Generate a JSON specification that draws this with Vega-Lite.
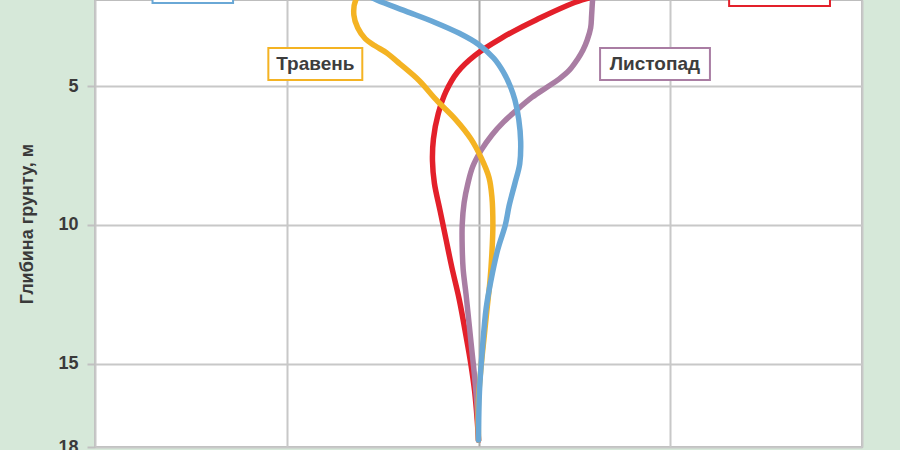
{
  "$schema": "https://vega.github.io/schema/vega-lite/v6.json",
  "autosize": "none",
  "width": 767,
  "height": 447,
  "padding": {"left": 95, "top": 0, "right": 38, "bottom": 3},
  "background": "#d6e8d9",
  "config": {
    "view": {"fill": "white", "stroke": "#bdbdbd", "strokeWidth": 2},
    "font": "Liberation Sans"
  },
  "datasets": {
    "profiles": [
      {"series": "Серпень", "x": 0.75, "depth": 1.6},
      {"series": "Серпень", "x": 0.54, "depth": 1.9},
      {"series": "Серпень", "x": 0.3, "depth": 2.62},
      {"series": "Серпень", "x": 0.12, "depth": 3.27},
      {"series": "Серпень", "x": -0.02, "depth": 3.9},
      {"series": "Серпень", "x": -0.11, "depth": 4.5},
      {"series": "Серпень", "x": -0.17, "depth": 5.2},
      {"series": "Серпень", "x": -0.21, "depth": 6.0},
      {"series": "Серпень", "x": -0.235, "depth": 6.9},
      {"series": "Серпень", "x": -0.24, "depth": 7.7},
      {"series": "Серпень", "x": -0.23, "depth": 8.5},
      {"series": "Серпень", "x": -0.2, "depth": 9.5},
      {"series": "Серпень", "x": -0.17, "depth": 10.5},
      {"series": "Серпень", "x": -0.14, "depth": 11.5},
      {"series": "Серпень", "x": -0.1, "depth": 12.7},
      {"series": "Серпень", "x": -0.065, "depth": 14.0},
      {"series": "Серпень", "x": -0.04, "depth": 15.0},
      {"series": "Серпень", "x": -0.02, "depth": 16.0},
      {"series": "Серпень", "x": -0.007, "depth": 17.0},
      {"series": "Серпень", "x": 0.0, "depth": 17.75},
      {"series": "Листопад", "x": 0.6, "depth": 1.6},
      {"series": "Листопад", "x": 0.595, "depth": 1.9},
      {"series": "Листопад", "x": 0.59, "depth": 2.44},
      {"series": "Листопад", "x": 0.585, "depth": 2.9},
      {"series": "Листопад", "x": 0.567, "depth": 3.34},
      {"series": "Листопад", "x": 0.545, "depth": 3.7},
      {"series": "Листопад", "x": 0.515, "depth": 4.05},
      {"series": "Листопад", "x": 0.475, "depth": 4.42},
      {"series": "Листопад", "x": 0.42, "depth": 4.75},
      {"series": "Листопад", "x": 0.355, "depth": 5.05},
      {"series": "Листопад", "x": 0.28, "depth": 5.4},
      {"series": "Листопад", "x": 0.2, "depth": 5.86},
      {"series": "Листопад", "x": 0.13, "depth": 6.3},
      {"series": "Листопад", "x": 0.07, "depth": 6.76},
      {"series": "Листопад", "x": 0.015, "depth": 7.3},
      {"series": "Листопад", "x": -0.03, "depth": 7.9},
      {"series": "Листопад", "x": -0.055, "depth": 8.5},
      {"series": "Листопад", "x": -0.075, "depth": 9.2},
      {"series": "Листопад", "x": -0.085, "depth": 10.0},
      {"series": "Листопад", "x": -0.085, "depth": 10.8},
      {"series": "Листопад", "x": -0.08, "depth": 11.6},
      {"series": "Листопад", "x": -0.065, "depth": 12.5},
      {"series": "Листопад", "x": -0.05, "depth": 13.5},
      {"series": "Листопад", "x": -0.035, "depth": 14.5},
      {"series": "Листопад", "x": -0.02, "depth": 15.5},
      {"series": "Листопад", "x": -0.008, "depth": 16.5},
      {"series": "Листопад", "x": 0.0, "depth": 17.75},
      {"series": "Травень", "x": -0.6, "depth": 1.6},
      {"series": "Травень", "x": -0.64, "depth": 1.9},
      {"series": "Травень", "x": -0.65, "depth": 2.44},
      {"series": "Травень", "x": -0.63, "depth": 2.9},
      {"series": "Травень", "x": -0.59, "depth": 3.3},
      {"series": "Травень", "x": -0.54, "depth": 3.55},
      {"series": "Травень", "x": -0.48, "depth": 3.8},
      {"series": "Травень", "x": -0.41, "depth": 4.2},
      {"series": "Травень", "x": -0.31, "depth": 4.8},
      {"series": "Травень", "x": -0.22, "depth": 5.5},
      {"series": "Травень", "x": -0.12, "depth": 6.2},
      {"series": "Травень", "x": -0.04, "depth": 6.9},
      {"series": "Травень", "x": 0.015, "depth": 7.6},
      {"series": "Травень", "x": 0.055, "depth": 8.3},
      {"series": "Травень", "x": 0.07, "depth": 9.0},
      {"series": "Травень", "x": 0.075, "depth": 10.0},
      {"series": "Травень", "x": 0.07, "depth": 11.0},
      {"series": "Травень", "x": 0.06, "depth": 12.0},
      {"series": "Травень", "x": 0.045, "depth": 13.0},
      {"series": "Травень", "x": 0.03, "depth": 14.0},
      {"series": "Травень", "x": 0.015, "depth": 15.0},
      {"series": "Травень", "x": 0.0, "depth": 16.3},
      {"series": "Травень", "x": 0.0, "depth": 17.75},
      {"series": "Лютий", "x": -0.62, "depth": 1.6},
      {"series": "Лютий", "x": -0.53, "depth": 1.9},
      {"series": "Лютий", "x": -0.38, "depth": 2.3},
      {"series": "Лютий", "x": -0.23, "depth": 2.7},
      {"series": "Лютий", "x": -0.1, "depth": 3.1},
      {"series": "Лютий", "x": 0.0, "depth": 3.5},
      {"series": "Лютий", "x": 0.08, "depth": 4.0},
      {"series": "Лютий", "x": 0.13, "depth": 4.5},
      {"series": "Лютий", "x": 0.165, "depth": 5.0},
      {"series": "Лютий", "x": 0.19, "depth": 5.5},
      {"series": "Лютий", "x": 0.21, "depth": 6.2},
      {"series": "Лютий", "x": 0.22, "depth": 7.0},
      {"series": "Лютий", "x": 0.215, "depth": 7.8},
      {"series": "Лютий", "x": 0.19, "depth": 8.5},
      {"series": "Лютий", "x": 0.16, "depth": 9.3},
      {"series": "Лютий", "x": 0.14, "depth": 10.0},
      {"series": "Лютий", "x": 0.1, "depth": 10.9},
      {"series": "Лютий", "x": 0.065, "depth": 12.0},
      {"series": "Лютий", "x": 0.04, "depth": 13.0},
      {"series": "Лютий", "x": 0.02, "depth": 14.5},
      {"series": "Лютий", "x": 0.005, "depth": 16.0},
      {"series": "Лютий", "x": 0.0, "depth": 17.75}
    ],
    "labels": [
      {"series": "Лютий", "label": "", "xl": -1.7, "xr": -1.28, "dt": 1.0, "db": 2.01, "xc": -1.49, "dc": 1.5},
      {"series": "Серпень", "label": "", "xl": 1.307, "xr": 1.833, "dt": 1.0, "db": 2.12, "xc": 1.57, "dc": 1.5},
      {"series": "Травень", "label": "Травень", "xl": -1.096, "xr": -0.606, "dt": 3.63, "db": 4.78, "xc": -0.851, "dc": 4.2},
      {"series": "Листопад", "label": "Листопад", "xl": 0.634, "xr": 1.207, "dt": 3.63, "db": 4.78, "xc": 0.92, "dc": 4.2}
    ]
  },
  "layer": [
    {
      "data": {"name": "profiles"},
      "mark": {"type": "line", "interpolate": "catmull-rom", "strokeWidth": 5.5, "strokeCap": "round", "clip": true},
      "encoding": {
        "x": {
          "field": "x", "type": "quantitative",
          "scale": {"domain": [-2, 2], "nice": false, "zero": false},
          "axis": {
            "values": [-2, -1, 0, 1, 2], "labels": false, "ticks": false, "domain": false, "title": null,
            "grid": true, "gridWidth": 2,
            "gridColor": {"condition": {"test": "datum.value === 0", "value": "#a8a8a8"}, "value": "#c8c8c8"}
          }
        },
        "y": {
          "field": "depth", "type": "quantitative",
          "scale": {"domain": [1.9, 18], "nice": false, "zero": false, "reverse": true},
          "axis": {
            "values": [5, 10, 15, 18], "title": "Глибина грунту, м",
            "titleFont": "Liberation Sans", "titleFontSize": 18, "titleFontWeight": "bold", "titleColor": "#3a3a3a",
            "titlePadding": 21,
            "labelFont": "Liberation Sans", "labelFontSize": 18, "labelFontWeight": "bold", "labelColor": "#3a3a3a",
            "labelPadding": 9, "tickSize": 8, "tickColor": "#c0c0c0", "tickWidth": 2,
            "domain": false, "grid": true, "gridColor": "#c8c8c8", "gridWidth": 2
          }
        },
        "order": {"field": "depth", "type": "quantitative"},
        "color": {
          "field": "series", "type": "nominal", "legend": null,
          "scale": {"domain": ["Лютий", "Серпень", "Листопад", "Травень"], "range": ["#6aa8d6", "#e3202a", "#a97da3", "#f4b323"]}
        }
      }
    },
    {
      "data": {"name": "labels"},
      "mark": {"type": "rect", "fill": "white", "strokeWidth": 2, "clip": true},
      "encoding": {
        "x": {"field": "xl", "type": "quantitative"},
        "x2": {"field": "xr"},
        "y": {"field": "dt", "type": "quantitative"},
        "y2": {"field": "db"},
        "stroke": {"field": "series", "type": "nominal", "legend": null,
          "scale": {"domain": ["Лютий", "Серпень", "Листопад", "Травень"], "range": ["#6aa8d6", "#e3202a", "#a97da3", "#f4b323"]}}
      }
    },
    {
      "data": {"name": "labels"},
      "mark": {"type": "text", "font": "Liberation Sans", "fontSize": 19, "fontWeight": "bold", "color": "#3d3d3d", "clip": true, "baseline": "middle", "align": "center"},
      "encoding": {
        "x": {"field": "xc", "type": "quantitative"},
        "y": {"field": "dc", "type": "quantitative"},
        "text": {"field": "label"}
      }
    }
  ]
}
